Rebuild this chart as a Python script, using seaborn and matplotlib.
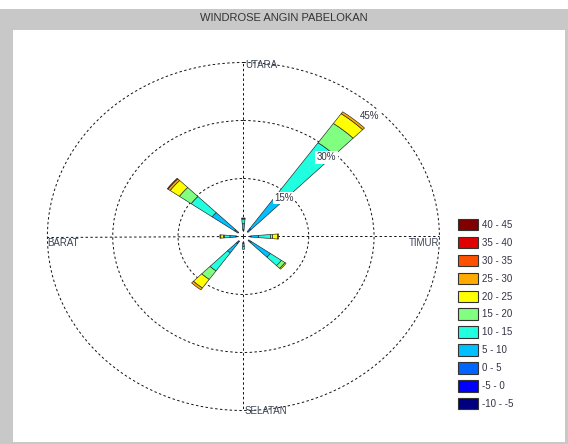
import numpy as np
import matplotlib
matplotlib.use("Agg")
import matplotlib.pyplot as plt
import seaborn as sns
from matplotlib.patches import Patch, Rectangle

# ---------------- data ----------------
directions = ["0", "40", "90", "130", "180", "220", "270", "310"]
dir_degrees = [0, 40, 90, 130, 180, 220, 270, 310]
speed_bins = ["-10 - -5", "-5 - 0", "0 - 5", "5 - 10", "10 - 15", "15 - 20",
              "20 - 25", "25 - 30", "30 - 35", "35 - 40", "40 - 45"]
bin_colors = ["#000080", "#0000ff", "#0064ff", "#00c0ff", "#20ffe0", "#80ff80",
              "#ffff00", "#ffaa00", "#ff5000", "#e00000", "#800000"]

# frequency (%) per direction sector, order as dir_degrees
f_m10_m5 = [0.0, 0.0, 0.0, 0.0, 0.0, 0.0, 0.0, 0.0]
f_m5_0   = [0.0, 0.0, 0.0, 0.0, 0.0, 0.0, 0.0, 0.0]
f_0_5    = [0.3, 1.0, 0.3, 0.8, 0.3, 0.8, 0.3, 1.0]
f_5_10   = [1.5, 10.8, 1.7, 5.3, 0.8, 2.9, 1.3, 6.3]
f_10_15  = [1.2, 16.4, 2.7, 3.1, 0.7, 5.7, 1.2, 5.9]
f_15_20  = [0.2, 6.1, 0.5, 1.0, 0.0, 2.7, 0.3, 3.3]
f_20_25  = [0.1, 3.1, 1.1, 0.3, 0.0, 2.7, 0.6, 2.6]
f_25_30  = [0.0, 0.6, 0.3, 0.0, 0.0, 0.6, 0.2, 0.6]
f_30_35  = [0.0, 0.0, 0.0, 0.0, 0.0, 0.0, 0.0, 0.2]
f_35_40  = [0.0, 0.0, 0.0, 0.0, 0.0, 0.0, 0.0, 0.0]
f_40_45  = [0.0, 0.0, 0.0, 0.0, 0.0, 0.0, 0.0, 0.0]
series = [f_m10_m5, f_m5_0, f_0_5, f_5_10, f_10_15, f_15_20, f_20_25,
          f_25_30, f_30_35, f_35_40, f_40_45]

ring_values = [15, 30, 45]
compass_labels = ["UTARA", "TIMUR", "SELATAN", "BARAT"]
title = "WINDROSE ANGIN PABELOKAN"
calm = 1.5

# ---------------- style ----------------
sns.set_style("white")
plt.rcParams["font.family"] = ["Liberation Sans", "DejaVu Sans"]
palette = sns.color_palette(bin_colors)

W, H = 568, 444
fig = plt.figure(figsize=(W / 100, H / 100), dpi=100, facecolor="white")
fig.patches.append(Rectangle((0, 0), 1, (H - 9) / H, transform=fig.transFigure,
                             facecolor="#c8c8c8", edgecolor="none", zorder=-10))
fig.patches.append(Rectangle((13 / W, 2 / H), (565 - 13) / W, (442 - 30) / H,
                             transform=fig.transFigure, facecolor="white",
                             edgecolor="none", zorder=-9))
fig.text(284 / W, 1 - 18 / H, title, ha="center", va="center", fontsize=8,
         color="#333333")

cx, cy, rx, ry = 243.4, 236.5, 196.0, 174.0
ax = fig.add_axes([(cx - rx) / W, (H - cy - ry) / H, 2 * rx / W, 2 * ry / H],
                  projection="polar")
ax.set_aspect("auto")
ax.set_theta_zero_location("N")
ax.set_theta_direction(-1)
ax.patch.set_alpha(0)

theta = np.deg2rad(dir_degrees)
bottom = np.full(len(directions), calm)
for lab, vals, col in zip(speed_bins, series, palette):
    vals = np.asarray(vals, dtype=float)
    m = vals > 0
    if m.any():
        ax.bar(theta[m], vals[m], width=np.deg2rad(9.5), bottom=bottom[m],
               color=col, edgecolor="#222222", linewidth=0.45, align="center",
               zorder=3)
    bottom = bottom + vals

ax.set_ylim(0, 45)
ax.set_rgrids(ring_values, labels=[""] * len(ring_values))
ax.set_thetagrids([0, 90, 180, 270], labels=[""] * 4)
ax.set_axisbelow(True)
ax.grid(True, color="#111111", linestyle=(0, (2.5, 2.5)), linewidth=0.7)
for gl in ax.yaxis.get_gridlines() + ax.xaxis.get_gridlines():
    gl.set_clip_on(False)
ax.spines["polar"].set_visible(False)
ax.tick_params(length=0)

for r, dr in zip(ring_values, [1.4, 2.0, 2.4]):
    ax.text(np.deg2rad(43), r - dr, f"{r}%", ha="center", va="center",
            fontsize=7, color="#333344", zorder=5,
            bbox=dict(facecolor="white", edgecolor="none", pad=1))

tc = "#3a4455"
ax.annotate(compass_labels[0], xy=(0, 45), xytext=(1, -2), textcoords="offset points",
            ha="left", va="center", fontsize=7, color=tc)
ax.annotate(compass_labels[1], xy=(np.pi / 2, 45), xytext=(0, -5), textcoords="offset points",
            ha="right", va="center", fontsize=7, color=tc)
ax.annotate(compass_labels[2], xy=(np.pi, 45), xytext=(1, 0), textcoords="offset points",
            ha="left", va="center", fontsize=7, color=tc)
ax.annotate(compass_labels[3], xy=(3 * np.pi / 2, 45), xytext=(0, -5), textcoords="offset points",
            ha="left", va="center", fontsize=7, color=tc)

handles = [Patch(facecolor=c, edgecolor="#333333", linewidth=0.8, label=l)
           for l, c in zip(speed_bins, palette)][::-1]
fs = 7
fpx = fs * 100 / 72
fig.legend(handles=handles, loc="upper left",
           bbox_to_anchor=(458 / W, 1 - 219 / H), frameon=False, fontsize=fs,
           handlelength=20 / fpx, handleheight=14 / fpx, labelspacing=0.66,
           handletextpad=0.45, borderpad=0, borderaxespad=0, labelcolor="#333344")

fig.savefig("out.png", dpi=100, facecolor=fig.get_facecolor())
